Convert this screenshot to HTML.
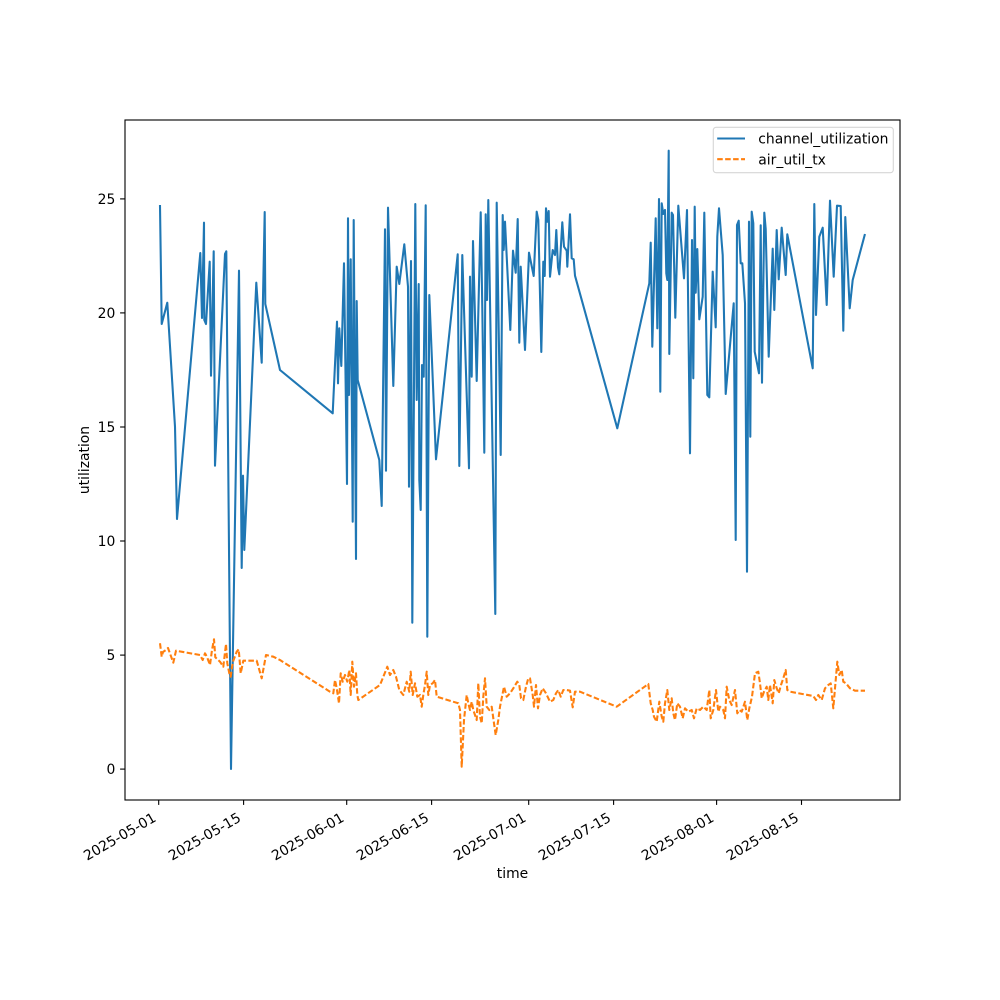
<!DOCTYPE html>
<html><head><meta charset="utf-8"><style>
html,body{margin:0;padding:0;background:#fff;}
svg{display:block;}
text{font-family:"DejaVu Sans","Liberation Sans",sans-serif;font-size:13.9px;fill:#000;}
</style></head><body>
<svg width="1000" height="1000" viewBox="0 0 1000 1000" xmlns="http://www.w3.org/2000/svg">
<rect x="0" y="0" width="1000" height="1000" fill="#fff"/>
<defs><clipPath id="ax"><rect x="125" y="120" width="775" height="680"/></clipPath></defs>
<g clip-path="url(#ax)" fill="none" stroke-linejoin="round">
<polyline stroke="#1f77b4" stroke-width="2.08" stroke-linecap="square" points="160,206 161.7,324 167.3,302.7 175,426.7 177,519 200.3,253 202,318 204,222.7 204.3,320 206,324 209.7,261.7 211,375.7 213.7,251.3 215,465.7 225,254 226.3,251.3 231,769 239,270.7 241.7,568 243,475.7 244.3,550 256.3,282.7 261.7,362.7 264.7,212 265.3,304 280,370 332.7,413.3 337,321.7 338,383.3 339.3,328.3 341.3,366 344,263.3 347,484 348,218.3 349,395 350.7,259.3 352.7,521.7 353.7,220 356,559 356.7,301 357.7,380 379.3,460 381.7,506 385,229.3 386,470.7 388,207.7 393.3,386 396.7,266.7 399.3,284 404.3,244.3 408,286.7 409,486.7 411,261 412.3,622.7 415.3,204 416.7,400 418.7,284 419.3,480 420.7,510 422,365 423.7,376.7 425.7,205.3 427.3,636.7 429.3,295 436,459.3 457.7,254.3 459.3,466 462.3,255 469,468.3 470,276.7 471.7,376.7 473,241 476.7,381 480.7,212.3 482.3,308.3 484.3,452.7 485.7,214.3 487,300 488.3,200 495.3,614 496.7,202.7 500.7,455 502.7,215 503.7,250 505,221.7 510.3,330 513,250.7 515.7,272.7 517.7,219 519.3,342.7 520.7,266.7 525,350 529,252.7 533.7,276 536.7,211.7 538.3,220 541.3,352 543.3,261.7 544.7,276 546,208.3 547.3,221.7 548.7,211 550,276.7 552.7,250 555,255 556.3,230 558,267.3 559.3,274.3 562.3,222.3 564,246.7 566.7,250.7 567.3,266.7 570,214.3 571.7,258.3 573.7,259.3 575,275.7 617.3,428.3 649.3,283.3 650.7,242.7 652.3,346.7 655.7,218.3 657.3,328.3 659,199 660.3,391.7 661.7,203.3 663.3,214 665,210 666.3,273.3 667.3,280 668.7,150.7 669.3,354 671.7,212.7 673,215 675.3,317.7 678.3,205.7 684,278.3 687,210 690,453.3 692,240 693.3,378.3 694.7,206.7 695.7,292.7 697.3,249 699.3,319.3 702.7,296.7 704.3,212.7 707.3,395 709.3,397.3 712.7,271.7 715.7,327.3 717.3,236.7 719,208.3 722.7,255 725.7,394 733.7,303.3 735.7,540 737,225 738.7,220.7 740.7,263.3 742.3,263.3 745,303.3 747,571.7 749,221.7 750.3,436.7 751.7,211.7 753.3,223.3 754.7,351.7 759,373.3 760.7,225.3 762,382.7 764.3,212.7 765.7,229 768.7,356.7 772.7,248.7 774.3,310 776.7,230 778.7,279.3 781.7,227.7 785.7,275 787.3,234.3 812.7,368.3 814.3,204 816,315 819.3,236.7 822.7,227.7 826.7,305 830,200.7 833.7,276.7 837,205.7 840.7,206 843.3,330.7 845.3,217 849.7,308.3 852.7,280 864.7,235"/>
<polyline stroke="#ff7f0e" stroke-width="2.08" stroke-dasharray="5.55 2.4" points="160,643.3 161.7,656.7 163,652 166,650 168,648 173.3,662.7 176,650.7 200,655 202.7,660 205,653.3 207,657 210,665 212,650 214,639.3 215.3,657.3 220,661.7 223.3,666.7 226,644 227.3,663.3 229.3,673.3 230.7,676.7 232,667 233.3,660.7 236.7,651.7 238.7,649.3 240.7,673.3 243.3,660.7 256.7,660.7 261.7,678.3 266,655 273.3,656.7 280,660 330,691.7 333.3,693.3 335,680 336.7,688 339,703.3 340.7,673.3 342.7,681.7 345,675 347.3,681.7 349.3,670 350.7,695 352.3,661.7 354,686.7 356,673.3 357.3,695 358.3,700 380,685 382.7,678.3 387.3,666.7 390,675 393.3,670 396,676.7 399.3,690 403.3,695 406.7,681.7 409.3,691.7 410.7,671.7 412.7,695 415,683.3 417.3,696.7 420,695 421.7,706.7 423.3,695 425,685 426.7,671.7 428.3,695 430,685 432.7,683.3 435,680 436.7,696.7 458.3,703.3 460,710 461.7,766.7 464,720 466.7,695 468.3,703.3 470,710 471.7,701.7 473.3,710 476.7,720 478.3,683.3 480,716.7 481.7,723.3 483.3,696.7 485,678.3 486.7,706.7 489.3,710 491.7,706.7 494,723.3 495.7,735 498.3,720 500,706.7 504,686.7 506.7,696.7 510,693.3 513.3,688.3 517.3,681.7 519.3,685 521,698.3 523.3,700 526,686.7 528.3,678.3 530,678.3 532.7,695 534,706.7 536,685 538,708.3 540,695 542.7,688.3 546,693.3 550,701.7 553.3,700 556,693.3 558.3,690 560.7,696.7 563.3,690 566.7,690 570,690.7 572.7,707.3 575,691.7 580,691.7 616.7,706.7 648.3,684 650.7,703.3 652.7,710 654,716.7 656.7,721.7 659.3,701.7 661.7,716.7 663.3,721.7 665,703.3 667.3,690 669.3,710 671.7,698.3 673.3,713.3 675,720 677.3,703.3 680,706.7 682.7,718.3 685,708.3 688.3,711.7 691.7,710 694,718.3 696.7,708.3 700,710 703.3,706.7 706.7,710 709.3,690 710.7,718.3 713.3,710 716,690 718.3,711.7 720,706.7 723.3,710 725,718.3 726.7,686.7 729.3,700 731.7,705 735,690 737.3,713.3 739.3,710 741.7,711.7 745,701.7 747.3,720 749.3,708.3 752,696.7 755,673.3 758.3,671.7 760,683.3 761.7,698.3 764,691.7 766.7,686.7 768.3,700 770,685 772.7,703.3 774.3,680 776.7,688.3 778.7,693.3 781,685 783.3,678.3 785.7,670 787.3,690 790,691.7 813.3,696 816,700 818.3,695 821.7,700 825,688.3 828.3,685 830.7,683.3 833.3,708.3 835,688.3 837.3,661.7 839.3,675 841.7,670 843.3,681.7 846,683.3 850,688.3 855,690.7 865,690.7"/>
</g>
<!-- axes frame -->
<rect x="125" y="120" width="775" height="680" fill="none" stroke="#000" stroke-width="1.11"/>
<!-- y ticks -->
<g stroke="#000" stroke-width="1.11">
<line x1="120.1" y1="769.1" x2="125" y2="769.1"/>
<line x1="120.1" y1="655.1" x2="125" y2="655.1"/>
<line x1="120.1" y1="541" x2="125" y2="541"/>
<line x1="120.1" y1="427" x2="125" y2="427"/>
<line x1="120.1" y1="312.9" x2="125" y2="312.9"/>
<line x1="120.1" y1="198.9" x2="125" y2="198.9"/>
</g>
<g text-anchor="end">
<text x="115.3" y="774.2">0</text>
<text x="115.3" y="660.2">5</text>
<text x="115.3" y="546.1">10</text>
<text x="115.3" y="432.1">15</text>
<text x="115.3" y="318">20</text>
<text x="115.3" y="204">25</text>
</g>
<!-- x ticks -->
<g stroke="#000" stroke-width="1.11">
<line x1="158.7" y1="800" x2="158.7" y2="804.9"/>
<line x1="243.6" y1="800" x2="243.6" y2="804.9"/>
<line x1="346.7" y1="800" x2="346.7" y2="804.9"/>
<line x1="431.6" y1="800" x2="431.6" y2="804.9"/>
<line x1="528.7" y1="800" x2="528.7" y2="804.9"/>
<line x1="613.6" y1="800" x2="613.6" y2="804.9"/>
<line x1="716.6" y1="800" x2="716.6" y2="804.9"/>
<line x1="801.5" y1="800" x2="801.5" y2="804.9"/>
</g>
<g text-anchor="end">
<text transform="translate(157,820.5) rotate(-30)">2025-05-01</text>
<text transform="translate(241.9,820.5) rotate(-30)">2025-05-15</text>
<text transform="translate(345,820.5) rotate(-30)">2025-06-01</text>
<text transform="translate(429.9,820.5) rotate(-30)">2025-06-15</text>
<text transform="translate(527,820.5) rotate(-30)">2025-07-01</text>
<text transform="translate(611.9,820.5) rotate(-30)">2025-07-15</text>
<text transform="translate(714.9,820.5) rotate(-30)">2025-08-01</text>
<text transform="translate(799.8,820.5) rotate(-30)">2025-08-15</text>
</g>
<text x="512.5" y="878" text-anchor="middle">time</text>
<text transform="translate(89,460) rotate(-90)" text-anchor="middle">utilization</text>
<!-- legend -->
<rect x="713.3" y="127.3" width="180" height="45.4" rx="2.8" ry="2.8" fill="#fff" fill-opacity="0.8" stroke="#d6d6d6" stroke-width="1.11"/>
<line x1="717.2" y1="138.5" x2="745" y2="138.5" stroke="#1f77b4" stroke-width="2.08"/>
<line x1="717.2" y1="159.2" x2="745" y2="159.2" stroke="#ff7f0e" stroke-width="2.08" stroke-dasharray="5.55 2.4"/>
<text x="758.3" y="143.6">channel_utilization</text>
<text x="758.3" y="164.3">air_util_tx</text>
</svg>
</body></html>
